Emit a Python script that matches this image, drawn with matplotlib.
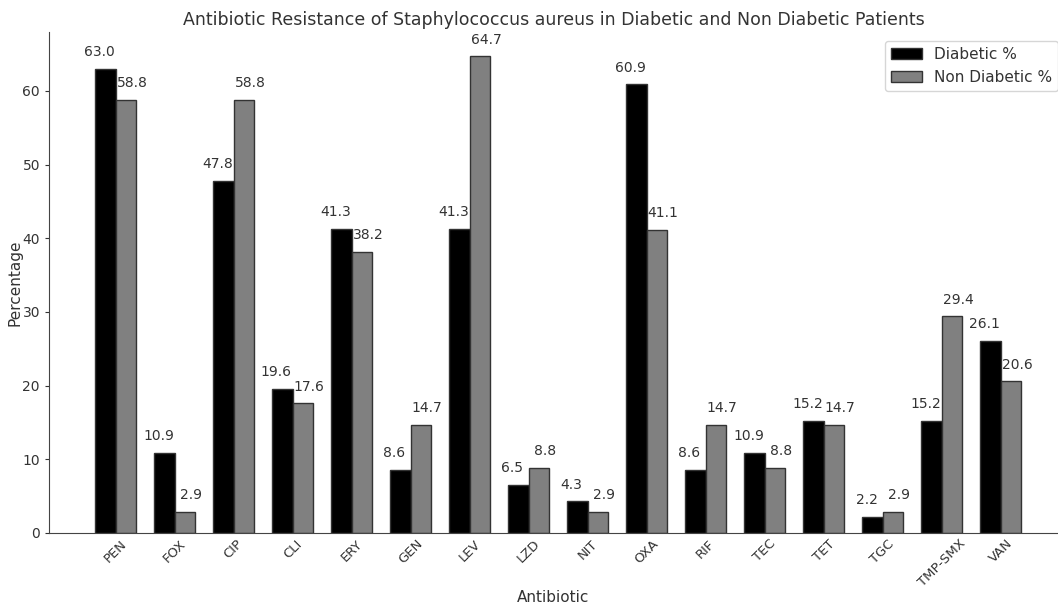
import matplotlib
matplotlib.use("Agg")
import matplotlib.pyplot as plt
import numpy as np

antibiotics = ["PEN", "FOX", "CIP", "CLI", "ERY", "GEN", "LEV", "LZD",
               "NIT", "OXA", "RIF", "TEC", "TET", "TGC", "TMP-SMX", "VAN"]
diabetic = [63.0, 10.9, 47.8, 19.6, 41.3, 8.6, 41.3, 6.5,
            4.3, 60.9, 8.6, 10.9, 15.2, 2.2, 15.2, 26.1]
non_diabetic = [58.8, 2.9, 58.8, 17.6, 38.2, 14.7, 64.7, 8.8,
                2.9, 41.1, 14.7, 8.8, 14.7, 2.9, 29.4, 20.6]

TXT = "#333333"
plt.rcParams.update({"text.color": TXT, "axes.labelcolor": TXT,
                     "xtick.color": TXT, "ytick.color": TXT,
                     "axes.edgecolor": "#444444"})

fig = plt.figure(figsize=(10.58, 6.05), dpi=100)
ax = fig.add_axes([49 / 1058, 72 / 605, 1 - 49 / 1058, (533 - 32) / 605])

x = np.arange(len(antibiotics))
w = 0.35
b1 = ax.bar(x - w / 2, diabetic, w, color="black", edgecolor="#333333",
            linewidth=1, label="Diabetic %")
b2 = ax.bar(x + w / 2, non_diabetic, w, color="#808080", edgecolor="#333333",
            linewidth=1, label="Non Diabetic %")

# labels sit a little outward from each bar's centre, as in the original
for bars, dx in ((b1, -4.3), (b2, 4.3)):
    for r in bars:
        h = r.get_height()
        ax.annotate(f"{h:.1f}", (r.get_x() + r.get_width() / 2, h),
                    xytext=(dx, 7), textcoords="offset points",
                    ha="center", va="bottom", fontsize=10, color=TXT)

ax.set_xticks(x)
ax.set_xticklabels(antibiotics, rotation=45, fontsize=9.5)
ax.tick_params(axis="y", labelsize=10, length=3)
ax.tick_params(axis="x", length=0, pad=3)
ax.set_xlim(-1.13, 15.97)
ax.set_ylim(0, 68)
for s in ("top", "right"):
    ax.spines[s].set_visible(False)

ax.set_xlabel("Antibiotic", fontsize=11)
ax.set_ylabel("Percentage", fontsize=11)
ax.xaxis.set_label_coords(0.5, -0.114)
ax.yaxis.set_label_coords(-0.026, 0.5)
ax.set_title("Antibiotic Resistance of Staphylococcus aureus in Diabetic and Non Diabetic Patients",
             fontsize=12.5, pad=5)

fig.legend(loc="upper left", bbox_to_anchor=(885 / 1058, 1 - 41 / 605),
           borderaxespad=0, fontsize=11, frameon=True, fancybox=True)

fig.savefig("out.png", dpi=100)
